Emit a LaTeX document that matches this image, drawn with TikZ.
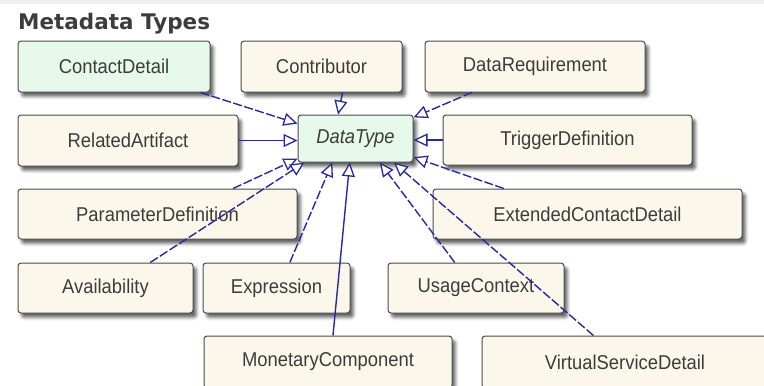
\documentclass[tikz,border=0pt]{standalone}
\usepackage{fontspec}
\setmainfont{Liberation Sans}
\newfontfamily\boxfont{Liberation Sans}[FakeStretch=0.92]
\newfontfamily\titlefont{DejaVu Sans}
\usetikzlibrary{arrows.meta,shadows.blur,calc}
\definecolor{cream}{RGB}{252,247,235}
\definecolor{mint}{RGB}{231,249,234}
\definecolor{edgegray}{RGB}{75,75,75}
\definecolor{linkblue}{RGB}{40,40,165}
\definecolor{txtgray}{RGB}{60,60,60}
\begin{document}
\begin{tikzpicture}[x=1pt,y=-1pt,
  cls/.style={draw=edgegray, line width=1pt, fill=cream, rounded corners=3pt,
    inner sep=0pt, font=\boxfont\fontsize{20}{24}\selectfont, text=txtgray,
    minimum height=51pt,
    blur shadow={shadow xshift=3.5pt, shadow yshift=-4.5pt, shadow blur radius=3pt, shadow opacity=60}},
  gcls/.style={cls, fill=mint},
  gen/.style={draw=linkblue, line width=1.4pt,
    -{Triangle[length=14pt,width=13pt,fill=white,line width=1.3pt]}},
  dshd/.style={dash pattern=on 9pt off 2.5pt}]
\useasboundingbox (0,0) rectangle (764,386);
\fill[gray!12] (0,0) rectangle (764,4);
\node[anchor=base west, inner sep=0pt, font=\titlefont\bfseries\fontsize{21.5}{24}\selectfont, text=txtgray] (title) at (18,29.3) {Metadata Types};

\node[gcls, minimum width=192pt] (cd) at (114,66.5) {ContactDetail};
\node[cls, minimum width=161pt] (co) at (321.5,66.5) {Contributor};
\node[cls, minimum width=220pt] (dr) at (535,66.5) {DataRequirement};
\node[cls, minimum width=220pt] (ra) at (128,140.5) {RelatedArtifact};
\node[gcls, minimum width=115pt, minimum height=47pt, font=\boxfont\itshape\fontsize{20}{24}\selectfont] (dt) at (355.5,138.5) {DataType};
\node[cls, minimum width=249pt, minimum height=50pt] (td) at (567.5,140) {TriggerDefinition};
\node[cls, minimum width=279pt, minimum height=50pt] (pd) at (157.5,214) {ParameterDefinition};
\node[cls, minimum width=309pt, minimum height=50pt] (ecd) at (587.5,214) {ExtendedContactDetail};
\node[cls, minimum width=175pt, minimum height=50pt] (av) at (105.5,288) {Availability};
\node[cls, minimum width=147pt, minimum height=50pt] (ex) at (276.5,288) {Expression};
\node[cls, minimum width=176pt, minimum height=50pt] (uc) at (476,288) {UsageContext};
\node[cls, minimum width=248pt, minimum height=52pt] (mc) at (328,362) {MonetaryComponent};
\node[cls, minimum width=286pt, minimum height=52pt] (vsd) at (625,362) {VirtualServiceDetail};

\draw[gen,dshd] ($(cd.south west)!0.948!(cd.south east)$) -- ($(dt.north west)!0.19!(dt.south west)$);
\draw[gen] ($(co.south west)!0.63!(co.south east)$) -- ($(dt.north west)!0.35!(dt.north east)$);
\draw[gen,dshd] ($(dr.south west)!0.214!(dr.south east)$) -- ($(dt.north east)!0.06!(dt.south east)$);
\draw[gen] (ra.east) -- (ra.east -| dt.west);
\draw[gen] (td.west) -- (td.west -| dt.east);
\draw[gen,dshd] ($(pd.north west)!0.77!(pd.north east)$) -- ($(dt.north west)!0.92!(dt.south west)$);
\draw[gen,dshd] ($(av.north west)!0.754!(av.north east)$) -- ($(dt.south west)!0.06!(dt.south east)$);
\draw[gen,dshd] ($(ex.north west)!0.59!(ex.north east)$) -- ($(dt.south west)!0.30!(dt.south east)$);
\draw[gen] ($(mc.north west)!0.52!(mc.north east)$) -- ($(dt.south west)!0.45!(dt.south east)$);
\draw[gen,dshd] ($(uc.north west)!0.38!(uc.north east)$) -- ($(dt.south west)!0.71!(dt.south east)$);
\draw[gen,dshd] ($(vsd.north west)!0.39!(vsd.north east)$) -- ($(dt.south west)!0.83!(dt.south east)$);
\draw[gen,dshd] ($(ecd.north west)!0.23!(ecd.north east)$) -- ($(dt.north east)!0.89!(dt.south east)$);
\end{tikzpicture}
\end{document}
